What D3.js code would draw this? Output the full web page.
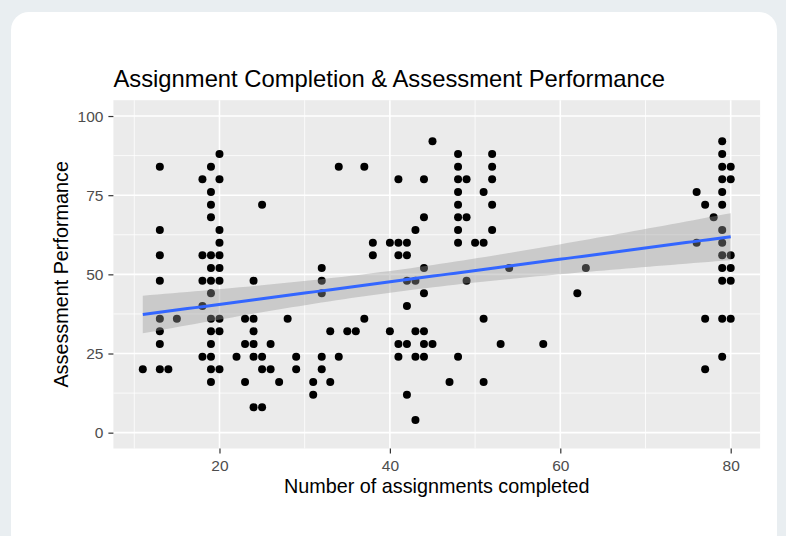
<!DOCTYPE html>
<html>
<head>
<meta charset="utf-8">
<script src="https://cdn.jsdelivr.net/npm/d3@7"></script>
<style>
    body { margin: 0; background: #e9eef1; }
    svg { display: block; }
    text { font-family: "Liberation Sans", Arial, Helvetica, sans-serif; }
</style>
</head>
<body>
<svg id="chart" width="786" height="536"></svg>
<script>

// number of assignments completed, and the assessment scores seen at each count
const completedCounts = [11, 13, 14, 15, 18, 19, 20, 22, 23, 24, 25, 26, 27, 28, 29, 31, 32, 33, 34, 35, 36, 37, 38,
    40, 41, 42, 43, 44, 45, 47, 48, 49, 50, 51, 52, 53, 54, 58, 62, 63, 76, 77, 78, 79, 80];
const scoresByCount = [
    [20],
    [84, 64, 56, 48, 36, 32, 28, 20],
    [20],
    [36],
    [80, 56, 48, 40, 24],
    [84, 76, 72, 68, 56, 52, 48, 44, 36, 32, 28, 24, 20, 16],
    [88, 80, 64, 60, 56, 52, 48, 36, 32, 20],
    [24],
    [36, 28, 16],
    [48, 36, 32, 28, 24, 8],
    [72, 24, 20, 8],
    [28, 20],
    [16],
    [36],
    [24, 20],
    [16, 12],
    [52, 48, 44, 24, 20],
    [32, 16],
    [84, 24],
    [32],
    [32],
    [84, 36],
    [60, 56],
    [60, 32],
    [80, 60, 56, 28, 24],
    [60, 56, 48, 40, 28, 12],
    [64, 48, 32, 24, 4],
    [80, 68, 52, 44, 32, 28, 24],
    [92, 28],
    [16],
    [88, 84, 80, 76, 72, 68, 64, 60, 24],
    [80, 68, 48],
    [60],
    [76, 60, 36, 16],
    [88, 84, 80, 72, 64],
    [28],
    [52],
    [28],
    [44],
    [52],
    [76, 60],
    [72, 36, 20],
    [68],
    [92, 88, 84, 80, 76, 72, 64, 60, 56, 52, 48, 36, 24],
    [84, 80, 56, 52, 48, 36]
];
const xTicks = [20, 40, 60, 80];
const xMinorTicks = [10, 30, 50, 70];
const yTicks = [0, 25, 50, 75, 100];
const yMinorTicks = [12.5, 37.5, 62.5, 87.5];
const yLimits = [0, 100];

const chartTitle = "Assignment Completion & Assessment Performance";
const xTitle = "Number of assignments completed";
const yTitle = "Assessment Performance";

// flatten to points
const points = [];
completedCounts.forEach((c, i) => scoresByCount[i].forEach(s => points.push({x: c, y: s})));

// panel box
const panel = {left: 113.4, right: 760.1, top: 100.2, bottom: 448.5};

// ggplot style 5% expansion
const xExt = d3.extent(points, d => d.x);
const xPad = (xExt[1] - xExt[0]) * 0.05;
const yPad = (yLimits[1] - yLimits[0]) * 0.05;

const x = d3.scaleLinear()
    .domain([xExt[0] - xPad, xExt[1] + xPad])
    .range([panel.left, panel.right]);
const y = d3.scaleLinear()
    .domain([yLimits[0] - yPad, yLimits[1] + yPad])
    .range([panel.bottom, panel.top]);

// linear fit with 95% band (method = "lm")
const n = points.length;
const xMean = d3.mean(points, d => d.x);
const yMean = d3.mean(points, d => d.y);
const sxx = d3.sum(points, d => (d.x - xMean) ** 2);
const sxy = d3.sum(points, d => (d.x - xMean) * (d.y - yMean));
const slope = sxy / sxx;
const intercept = yMean - slope * xMean;
const sse = d3.sum(points, d => (d.y - intercept - slope * d.x) ** 2);
const sigma = Math.sqrt(sse / (n - 2));
const tCrit = 1.976;

const fit = d3.range(80).map(i => {
    let xv = xExt[0] + (xExt[1] - xExt[0]) * i / 79;
    let yv = intercept + slope * xv;
    let se = sigma * Math.sqrt(1 / n + (xv - xMean) ** 2 / sxx);
    return {x: xv, y: yv, lo: yv - tCrit * se, hi: yv + tCrit * se};
});

const svg = d3.select("#chart");

// card
svg.append("rect")
    .attr("x", 11).attr("y", 12)
    .attr("width", 766).attr("height", 540)
    .attr("rx", 18).attr("ry", 18)
    .attr("fill", "#ffffff");

// panel background
svg.append("rect")
    .attr("x", panel.left).attr("y", panel.top)
    .attr("width", panel.right - panel.left)
    .attr("height", panel.bottom - panel.top)
    .attr("fill", "#ebebeb");

// grid
const grid = svg.append("g");
grid.selectAll(".xminor").data(xMinorTicks).join("line")
    .attr("x1", d => x(d)).attr("x2", d => x(d))
    .attr("y1", panel.top).attr("y2", panel.bottom)
    .attr("stroke", "#fff").attr("stroke-width", 0.8);
grid.selectAll(".yminor").data(yMinorTicks).join("line")
    .attr("y1", d => y(d)).attr("y2", d => y(d))
    .attr("x1", panel.left).attr("x2", panel.right)
    .attr("stroke", "#fff").attr("stroke-width", 0.8);
grid.selectAll(".xmajor").data(xTicks).join("line")
    .attr("x1", d => x(d)).attr("x2", d => x(d))
    .attr("y1", panel.top).attr("y2", panel.bottom)
    .attr("stroke", "#fff").attr("stroke-width", 1.6);
grid.selectAll(".ymajor").data(yTicks).join("line")
    .attr("y1", d => y(d)).attr("y2", d => y(d))
    .attr("x1", panel.left).attr("x2", panel.right)
    .attr("stroke", "#fff").attr("stroke-width", 1.6);

// points
svg.append("g").selectAll("circle").data(points).join("circle")
    .attr("cx", d => x(d.x))
    .attr("cy", d => y(d.y))
    .attr("r", 4)
    .attr("fill", "#000");

// confidence band + line
svg.append("path")
    .datum(fit)
    .attr("d", d3.area().x(d => x(d.x)).y0(d => y(d.lo)).y1(d => y(d.hi)))
    .attr("fill", "#999999")
    .attr("fill-opacity", 0.4);
svg.append("path")
    .datum(fit)
    .attr("d", d3.line().x(d => x(d.x)).y(d => y(d.y)))
    .attr("fill", "none")
    .attr("stroke", "#3366ff")
    .attr("stroke-width", 3);

// axes
const xAxis = svg.append("g")
    .attr("transform", `translate(0,${panel.bottom})`)
    .call(d3.axisBottom(x).tickValues(xTicks).tickSize(5).tickPadding(6));
const yAxis = svg.append("g")
    .attr("transform", `translate(${panel.left},0)`)
    .call(d3.axisLeft(y).tickValues(yTicks).tickSize(5).tickPadding(5));
[xAxis, yAxis].forEach(a => {
    a.select(".domain").remove();
    a.selectAll(".tick line").attr("stroke", "#333333").attr("stroke-width", 1.2);
    a.selectAll(".tick text")
        .attr("fill", "#4d4d4d")
        .style("font-size", "15.5px")
        .style("font-family", "'Liberation Sans', Arial, sans-serif");
});

// titles
svg.append("text")
    .attr("x", panel.left)
    .attr("y", 87)
    .style("font-size", "23.8px")
    .attr("fill", "#000")
    .text(chartTitle);

svg.append("text")
    .attr("x", (panel.left + panel.right) / 2)
    .attr("y", 493)
    .attr("text-anchor", "middle")
    .style("font-size", "19.8px")
    .attr("fill", "#000")
    .text(xTitle);

svg.append("text")
    .attr("transform", `translate(68,${(panel.top + panel.bottom) / 2}) rotate(-90)`)
    .attr("text-anchor", "middle")
    .style("font-size", "19.8px")
    .attr("fill", "#000")
    .text(yTitle);

</script>
</body>
</html>
